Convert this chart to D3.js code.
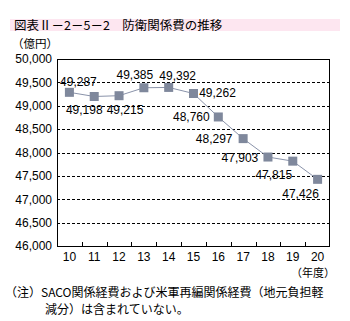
<!DOCTYPE html>
<html><head><meta charset="utf-8">
<script src="https://cdn.jsdelivr.net/npm/d3@7"></script>
<style>body{margin:0;background:#fff;}svg{display:block;font-family:"Noto Sans CJK JP","Noto Sans",sans-serif;}
.num{font-family:"Liberation Sans",Arial,sans-serif;}</style>
</head><body>
<svg id="c" width="350" height="321"></svg>
<script>
const years = ["10","11","12","13","14","15","16","17","18","19","20"];
const values = [49287,49198,49215,49385,49392,49262,48760,48297,47903,47815,47426];
const yTicks = [46000,46500,47000,47500,48000,48500,49000,49500,50000];
// label offsets relative to the point centre (text centred)
const labelDx = [9,-10,6,-9,9,24,-27,-29,-28,-19,-17];
const labelDy = [-11,13.5,14,-13,-12,-1.5,0,0,0,13,14];

const svg = d3.select("#c");
const m = {l:57, r:330, t:59, b:246};
const x = d3.scaleBand().domain(years).range([m.l, m.r]);
const y = d3.scaleLinear().domain([46000,50000]).range([m.b, m.t]);

// title bar
svg.append("rect").attr("x",10).attr("y",19).attr("width",330).attr("height",12).attr("fill","#fde6f0");
svg.append("text").attr("x",14).attr("y",29.5).attr("font-size",12.5).attr("fill","#000")
  .text("図表Ⅱ－2－5－2　防衛関係費の推移");
svg.append("text").attr("x",12).attr("y",48).attr("font-size",11.5).text("（億円）");

// gridlines
svg.append("g").selectAll("line").data(yTicks.filter(d=>d>46000 && d<50000)).join("line")
  .attr("x1",m.l).attr("x2",m.r).attr("y1",d=>Math.round(y(d))+0.5).attr("y2",d=>Math.round(y(d))+0.5)
  .attr("stroke","#000").attr("stroke-dasharray","3,2").attr("stroke-width",1);

// frame
svg.append("rect").attr("x",m.l+0.5).attr("y",m.t+0.5).attr("width",m.r-m.l-1).attr("height",m.b-m.t)
  .attr("fill","none").attr("stroke","#000").attr("stroke-width",1);

// y axis labels
const yAxis = d3.axisLeft(y).tickValues(yTicks).tickSize(0).tickPadding(5).tickFormat(d3.format(","));
const ga = svg.append("g").attr("transform",`translate(${m.l},0)`).call(yAxis);
ga.select(".domain").remove();
ga.selectAll("text").attr("class","num").attr("font-size",12).attr("font-family",null).attr("fill","#000");

// x axis
const xAxis = d3.axisBottom(x).tickSize(0).tickPadding(6);
const gx = svg.append("g").attr("transform",`translate(0,${m.b})`).call(xAxis);
gx.select(".domain").remove();
gx.selectAll("text").attr("class","num").attr("font-size",12).attr("font-family",null).attr("fill","#000");
// inner ticks at band boundaries
svg.append("g").selectAll("line").data(years.slice(1)).join("line")
  .attr("x1",d=>Math.round(x(d))+0.5).attr("x2",d=>Math.round(x(d))+0.5)
  .attr("y1",m.b).attr("y2",m.b-4).attr("stroke","#000");
svg.append("text").attr("x",335).attr("y",277).attr("text-anchor","end").attr("font-size",11).text("（年度）");

// line
const cx = d=>x(d)+x.bandwidth()/2;
svg.append("path").datum(values)
  .attr("d", d3.line().x((d,i)=>cx(years[i])).y(d=>y(d)))
  .attr("fill","none").attr("stroke","#8a93aa").attr("stroke-width",1);
svg.append("g").selectAll("rect").data(values).join("rect")
  .attr("x",(d,i)=>cx(years[i])-4.5).attr("y",d=>y(d)-4.5).attr("width",9).attr("height",9)
  .attr("fill","#7f889c");

// data labels
svg.append("g").selectAll("text").data(values).join("text")
  .attr("class","num").attr("font-size",12).attr("text-anchor","middle")
  .attr("x",(d,i)=>cx(years[i])+labelDx[i])
  .attr("y",(d,i)=>y(d)+labelDy[i]+4.5)
  .text(d=>d3.format(",")(d));

// note
svg.append("text").attr("x",5).attr("y",297).attr("font-size",12).text("（注）SACO関係経費および米軍再編関係経費（地元負担軽");
svg.append("text").attr("x",45).attr("y",314).attr("font-size",12).text("減分）は含まれていない。");
</script>
</body></html>
